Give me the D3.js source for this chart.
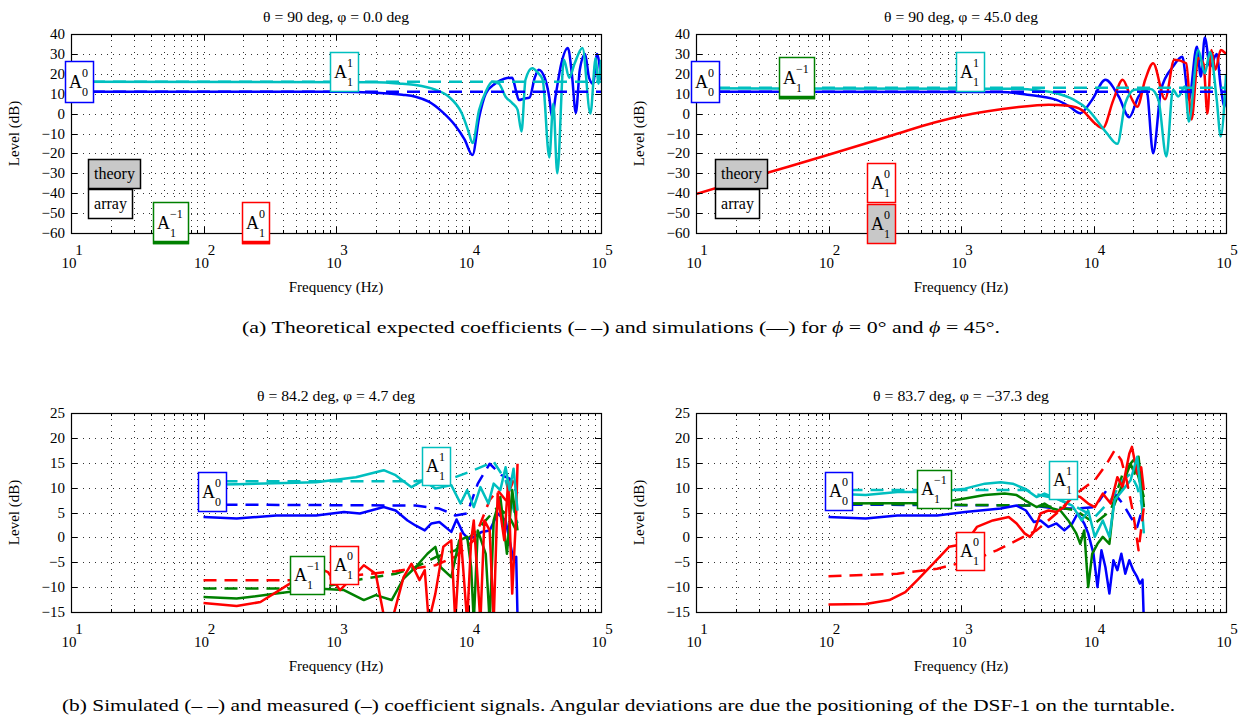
<!DOCTYPE html>
<html>
<head>
<meta charset="utf-8">
<script src="https://d3js.org/d3.v7.min.js"></script>
<style>
  body { margin: 0; background: #fff; }
  svg, svg text { font-family: "Times New Roman", "Liberation Serif", Times, serif; }
  svg text { fill: #000; }
</style>
</head>
<body>
<svg id="fig" width="1241" height="720"></svg>
<script>
// colours (MATLAB default order)
const cBlue = '#0000ff', cGreen = '#008000', cRed = '#ff0000', cCyan = '#00bfbf';

// ---- panel (a) left: theta = 90, phi = 0 ---- [Hz, dB]
const p1BlueTheory = [[10, 11], [1e5, 11]];
const p1CyanTheory = [[10, 16], [1e5, 16]];
const p1BlueSim = [[10, 11], [1000, 11], [1995, 10.5], [3162, 9.5], [3981, 8.5], [5012, 6], [6310, 1], [7943, -6],
  [9333, -13], [10720, -20.8], [12020, -2], [13490, 10], [15850, 15], [18620, 17.5], [21380, 18], [22910, 11],
  [23990, 6.8], [26300, 7.5], [28840, 8], [31620, 18], [33880, 22], [38020, 17], [40740, 8], [42660, -1.7],
  [45710, 10], [50120, 25], [56230, 33], [60260, 20], [64570, 0.3], [69180, 22], [75860, 30], [81280, 18],
  [87100, 15], [93330, 30], [100000, 17]];
const p1CyanSim = [[10, 16], [1995, 15.8], [3162, 15], [3981, 14.4], [5623, 12], [7079, 8.5], [8913, 0], [10000, -9],
  [10720, -14.8], [12020, 1.8], [13490, 11], [15140, 16], [16980, 15], [19050, 8.5], [21380, 5.3], [23440, 2],
  [25120, -9], [26920, 17], [30200, 22.8], [33880, 20], [36310, 17], [40740, -22], [43650, 5], [46770, -30],
  [52480, 27], [57540, 18], [63100, 25], [72440, 33], [83180, 0], [91200, 28], [95500, 15], [100000, 27]];

// ---- panel (a) right: theta = 90, phi = 45 ----
const p2BlueTheory = [[10, 11], [1e5, 11]];
const p2CyanTheory = [[10, 13], [1e5, 13]];
const p2BlueSim = [[10, 11], [1995, 10.8], [3162, 9.5], [5248, 6.9], [6607, 3.5], [7943, 0.2], [9772, 7], [12300, 17],
  [15490, 8.6], [18620, -1.8], [21880, 8.6], [25120, 12], [28180, -19.9], [32360, 12], [39810, 23.6], [46770, 28.6],
  [52480, 7], [60260, 33.6], [64570, 18.6], [69180, 38.3], [75860, 23.6], [85110, 30], [91200, 13.6], [97720, 3.5],
  [100000, 15]];
const p2RedSim = [[10, -40.4], [31.6, -30.5], [100, -20.7], [316, -10.5], [631, -4.5], [1000, -1.2], [1585, 1.2],
  [2630, 3.2], [4571, 4.5], [6457, 3.9], [8128, 1.9], [10230, -4.8], [11750, -7.3], [14130, 6.9], [16600, 17],
  [19050, 8.6], [21380, 3.5], [24550, 17], [28180, 25.3], [34670, 7.2], [40740, 27], [50120, 25.3], [54950, -3],
  [61660, 28], [67610, 25], [72440, 0], [77620, 32], [83180, 22], [91200, 32], [100000, 30]];
const p2CyanSim = [[10, 12.7], [2512, 12.5], [3981, 11.5], [5248, 10.2], [7079, 7], [9120, 1.9], [12590, -9.8],
  [15140, -15.2], [17380, 5.2], [20420, 12], [26920, 12.3], [30900, 6.9], [35480, -21.5], [39810, 12], [43650, 8.6],
  [48980, 13.6], [52480, -4], [61660, 32], [69180, 20.3], [75860, 31], [85110, 7], [91200, -11.5], [100000, 19.4]];

// ---- panel (b) left: theta = 84.2, phi = 4.7 ----
const p3BlueTheory = [[100, 6.6], [3981, 6.4], [4898, 6.1], [6026, 5.8], [7943, 4.4], [9772, 4.8], [11750, 10.8],
  [14450, 14.8], [17780, 12.5], [20420, 11.8], [23440, 8.8]];
const p3GreenTheory = [[100, -10.3], [708, -10.3], [1413, -8.6], [2818, -7.3], [3981, -6], [5623, -4], [7943, -2.6],
  [10960, 0.8], [13490, 3.4], [16600, 6.1], [20420, 4.1], [23440, 0.8]];
const p3RedTheory = [[100, -8.6], [708, -8.6], [1413, -7.6], [2818, -6.8], [5623, -5.6], [7943, -3.9], [10960, -0.6],
  [14450, 7.5], [16600, 9.5], [19050, 7.5], [21880, 11.5]];
const p3CyanTheory = [[100, 11.3], [3981, 11.3], [7943, 12.1], [10960, 13.5], [15490, 15.2], [19050, 11.5], [23440, 2.8]];
const p3BlueMeas = [[100, 4.1], [178, 3.8], [355, 4.4], [708, 4.4], [1148, 5.1], [1514, 4.8], [2291, 6.1], [2818, 5.4],
  [3467, 3.4], [3981, 2.4], [4677, 1.4], [5248, 2.8], [6026, 3.1], [7413, 1.1], [8128, 3.6], [9120, 0.8], [10000, -0.3],
  [10960, 0.1], [12590, 1.1], [14450, 1.4], [16600, 4.8], [19050, 3.4], [21880, -4.6], [22910, -3.9], [23440, -16]];
const p3GreenMeas = [[100, -12], [178, -12.3], [355, -11.3], [708, -10.3], [1148, -10.6], [1622, -12.6], [1995, -11.6],
  [2630, -12.6], [3236, -8.3], [3981, -6], [4898, -3.3], [5623, -1.9], [6166, -6], [7413, -8], [8511, -0.6], [9772, 0.1],
  [10470, -6], [10960, -17], [11750, 1.4], [13490, -3.3], [14450, -17], [15490, 3.4], [17380, 8.1], [18620, 1.4],
  [19500, -3.3], [21380, 9.5], [23440, 1.4]];
const p3RedMeas = [[100, -13.2], [178, -13.8], [269, -13], [407, -10], [617, -7], [708, -6], [871, -7], [1072, -10.6],
  [1230, -9], [1622, -5.6], [1995, -7.3], [2344, -17], [2630, -17], [3236, -8], [3715, -5.3], [4266, -8.6], [4677, -6.6],
  [5012, -17], [5623, -11.3], [6457, -1.9], [7413, -0.6], [7943, -17], [8710, 0.8], [9772, -17], [10470, -0.6],
  [10960, 3.4], [12300, -17], [13180, 3.4], [14450, 1.4], [15490, -17], [16600, 8.8], [18620, -0.6], [19950, 11.5],
  [21380, -11.3], [22910, 4.8], [23440, 14.8]];
const p3CyanMeas = [[100, 10.6], [178, 10.7], [708, 11.1], [1413, 12.1], [2291, 13.5], [2818, 12.5], [3715, 10.1],
  [4571, 11.5], [5623, 9.8], [7413, 10.5], [8710, 6.8], [9772, 9.5], [10960, 6.1], [12300, 10.1], [14130, 6.8],
  [15490, 10.8], [17380, 9.5], [19050, 14.1], [20420, 9.5], [21880, 13.8], [23440, 5.4]];

// ---- panel (b) right: theta = 83.7, phi = -37.3 ----
const p4BlueTheory = [[100, 6.6], [3467, 6.4], [5248, 5.8], [7413, 5.8], [10230, 6.1], [12590, 9.5], [14450, 8.8],
  [16600, 6.8], [19050, 4.1], [21380, 2.1], [23990, 6.8]];
const p4GreenTheory = [[100, 6.8], [3467, 6.4], [5248, 6.1], [7413, 5.4], [10230, 2.8], [13490, 5.4], [16600, 12.8],
  [19950, 15.5], [21880, 12.1], [23990, 8.1]];
const p4RedTheory = [[100, -7.8], [331, -7.3], [661, -6.3], [1318, -4.3], [1862, -2.6], [2630, -0.6], [3715, 1.4],
  [5248, 4.8], [7413, 8.8], [10230, 11.5], [12590, 14.8], [14450, 17.5], [16220, 15.5], [17780, 11.5], [19950, 4.8],
  [21880, -2.6], [23990, 6.1]];
const p4CyanTheory = [[100, 9.5], [3162, 9.5], [3467, 8.8], [5248, 7.8], [7413, 6.1], [10230, 4.1], [13490, 7.5],
  [16600, 11.5], [19050, 12.8], [21380, 10.1], [23440, 6.1]];
const p4BlueMeas = [[100, 4.1], [191, 3.8], [331, 4.4], [661, 4.4], [1072, 5.1], [1995, 5.8], [2630, 6.4], [3090, 5.4],
  [3548, 3.1], [3981, 3.4], [4571, 2.1], [5248, 2.8], [6026, 1.4], [6918, 2.8], [7586, 4.8], [8511, 2.8], [9120, 0.8],
  [10000, -3.3], [10720, -10], [11480, -2.6], [12300, -6], [13180, -11.3], [14130, -4.6], [15140, -6.6], [16220, -3.3],
  [17380, -7.3], [18620, -4.6], [19950, -6.6], [21380, -8], [22390, -9.3], [23440, -8.5], [23990, -17]];
const p4GreenMeas = [[100, 6.8], [661, 6.9], [1072, 7.8], [1514, 8.5], [2138, 8.8], [2630, 8.5], [3020, 7.5], [3715, 6.1],
  [4266, 6.8], [4898, 5.8], [5623, 5.4], [6457, 3.4], [7413, 0.8], [7943, -1.3], [8511, 1.4], [9120, -10], [9772, -3.3],
  [10720, -1.3], [11750, 0.1], [13180, -1.3], [14130, 6.1], [15490, 8.8], [17380, 12.1], [19050, 14.8], [20420, 12.8],
  [21880, 16.2], [23990, 6.1]];
const p4RedMeas = [[100, -13.5], [191, -13.4], [288, -12.6], [380, -11], [468, -8.6], [617, -5.3], [813, -1.9],
  [1072, -1.3], [1318, 2.1], [1738, 3.4], [2291, 4.1], [2630, 2.8], [3020, 0.8], [3311, 0.1], [3548, 1.1], [3981, 4.8],
  [4571, 5.4], [5248, 5.1], [6026, 6.1], [6918, 8.5], [7943, 8.1], [9120, 6.8], [10230, 6.1], [11750, 8.8], [13490, 6.8],
  [15140, 12.1], [16600, 10.1], [18620, 16.8], [19500, 18.2], [21380, 12.8], [22910, 14.1], [23990, 9.5]];
const p4CyanMeas = [[100, 8.8], [191, 8.5], [331, 9.1], [661, 9.1], [1072, 9.8], [1514, 10.8], [1995, 11.1], [2455, 10.8],
  [3020, 9.8], [3715, 8.1], [4266, 8.8], [5248, 7.8], [6918, 6.4], [8128, 3.4], [9120, 5.4], [10230, 0.1], [11750, 3.4],
  [13180, 0.1], [14450, 7.5], [16600, 9.5], [19050, 11.5], [21380, 16.2], [22910, 8.1], [23990, 0.8]];

// axis settings
const freqDomain = [10, 1e5];
const decades = [1, 2, 3, 4, 5];
const topTicks = [-60, -50, -40, -30, -20, -10, 0, 10, 20, 30, 40];
const bottomTicks = [-15, -10, -5, 0, 5, 10, 15, 20, 25];

const panels = [
  { left: 71, top: 34, title: 'θ = 90 deg, φ = 0.0 deg', titleLen: 146, yDomain: [-60, 40], yTicks: topTicks, smooth: true,
    lines: [[p1BlueSim, cBlue, false], [p1CyanSim, cCyan, false], [p1BlueTheory, cBlue, true], [p1CyanTheory, cCyan, true]],
    boxes: [
      { dx: -6, dy: 27, w: 28, h: 41, c: cBlue, sup: '0', sub: '0' },
      { dx: 259, dy: 18, w: 28, h: 39, c: cCyan, sup: '1', sub: '1' },
      { dx: 17, dy: 125, w: 52, h: 29, c: '#000', fill: '#c8c8c8', txt: 'theory' },
      { dx: 17, dy: 155, w: 44, h: 29, c: '#000', txt: 'array' },
      { dx: 82, dy: 168, w: 35, h: 41, c: cGreen, sup: '−1', sub: '1', thick: true },
      { dx: 171, dy: 168, w: 27, h: 41, c: cRed, sup: '0', sub: '1', thick: true }
    ] },
  { left: 696, top: 34, title: 'θ = 90 deg, φ = 45.0 deg', titleLen: 154, yDomain: [-60, 40], yTicks: topTicks, smooth: true,
    lines: [[p2BlueSim, cBlue, false], [p2RedSim, cRed, false], [p2CyanSim, cCyan, false], [p2BlueTheory, cBlue, true], [p2CyanTheory, cCyan, true]],
    boxes: [
      { dx: -5, dy: 27, w: 28, h: 41, c: cBlue, sup: '0', sub: '0' },
      { dx: 83, dy: 23, w: 35, h: 41, c: cGreen, sup: '−1', sub: '1', thick: true },
      { dx: 260, dy: 18, w: 28, h: 39, c: cCyan, sup: '1', sub: '1' },
      { dx: 19, dy: 125, w: 52, h: 29, c: '#000', fill: '#c8c8c8', txt: 'theory' },
      { dx: 19, dy: 155, w: 44, h: 29, c: '#000', txt: 'array' },
      { dx: 171, dy: 129, w: 28, h: 39, c: cRed, sup: '0', sub: '1' },
      { dx: 171, dy: 170, w: 28, h: 39, c: cRed, fill: '#c8c8c8', sup: '0', sub: '1' }
    ] },
  { left: 71, top: 413, title: 'θ = 84.2 deg, φ = 4.7 deg', titleLen: 158, yDomain: [-15, 25], yTicks: bottomTicks, smooth: false,
    lines: [[p3BlueTheory, cBlue, true], [p3GreenTheory, cGreen, true], [p3RedTheory, cRed, true], [p3CyanTheory, cCyan, true],
      [p3BlueMeas, cBlue, false], [p3GreenMeas, cGreen, false], [p3RedMeas, cRed, false], [p3CyanMeas, cCyan, false]],
    boxes: [
      { dx: 127, dy: 59, w: 28, h: 39, c: cBlue, sup: '0', sub: '0' },
      { dx: 351, dy: 34, w: 28, h: 38, c: cCyan, sup: '1', sub: '1' },
      { dx: 219, dy: 143, w: 34, h: 38, c: cGreen, sup: '−1', sub: '1' },
      { dx: 259, dy: 133, w: 28, h: 38, c: cRed, sup: '0', sub: '1' }
    ] },
  { left: 696, top: 413, title: 'θ = 83.7 deg, φ = −37.3 deg', titleLen: 176, yDomain: [-15, 25], yTicks: bottomTicks, smooth: false,
    lines: [[p4BlueTheory, cBlue, true], [p4GreenTheory, cGreen, true], [p4CyanTheory, cCyan, true],
      [p4BlueMeas, cBlue, false], [p4GreenMeas, cGreen, false], [p4RedMeas, cRed, false], [p4CyanMeas, cCyan, false], [p4RedTheory, cRed, true]],
    boxes: [
      { dx: 129, dy: 59, w: 27, h: 38, c: cBlue, sup: '0', sub: '0' },
      { dx: 221, dy: 57, w: 34, h: 38, c: cGreen, sup: '−1', sub: '1' },
      { dx: 353, dy: 48, w: 28, h: 38, c: cCyan, sup: '1', sub: '1' },
      { dx: 260, dy: 119, w: 28, h: 38, c: cRed, sup: '0', sub: '1' }
    ] }
];

const pw = 530, ph = 199;
const serif = '"Times New Roman", "Liberation Serif", Times, serif';
const svg = d3.select('#fig').attr('font-family', serif);
svg.append('rect').attr('width', 1241).attr('height', 720).attr('fill', '#fff');

panels.forEach(function(p, i) {
  const g = svg.append('g').attr('transform', 'translate(' + p.left + ',' + p.top + ')');
  const x = d3.scaleLog().domain(freqDomain).range([0, pw]);
  const y = d3.scaleLinear().domain(p.yDomain).range([ph, 0]);

  // dotted grid
  const grid = g.append('g').attr('stroke', '#333').attr('stroke-width', 1).attr('stroke-dasharray', '1,5');
  x.ticks().filter(function(t) { return t > 10 && t < 1e5; }).forEach(function(t) {
    grid.append('line').attr('x1', Math.round(x(t)) + 0.5).attr('x2', Math.round(x(t)) + 0.5).attr('y1', 0).attr('y2', ph);
  });
  p.yTicks.slice(1, -1).forEach(function(t) {
    grid.append('line').attr('x1', 0).attr('x2', pw).attr('y1', Math.round(y(t)) + 0.5).attr('y2', Math.round(y(t)) + 0.5);
  });

  // data lines
  const clipId = 'clip' + i;
  g.append('clipPath').attr('id', clipId).append('rect').attr('width', pw).attr('height', ph);
  const line = d3.line().x(function(d) { return x(d[0]); }).y(function(d) { return y(d[1]); })
    .curve(p.smooth ? d3.curveMonotoneX : d3.curveLinear);
  const lg = g.append('g').attr('clip-path', 'url(#' + clipId + ')');
  p.lines.forEach(function(l) {
    lg.append('path').datum(l[0]).attr('d', line).attr('fill', 'none').attr('stroke', l[1])
      .attr('stroke-width', 2.5).attr('stroke-linejoin', 'round')
      .attr('stroke-dasharray', l[2] ? '13,8' : null);
  });

  // frame and inward ticks
  g.append('rect').attr('x', 0.5).attr('y', 0.5).attr('width', pw).attr('height', ph)
    .attr('fill', 'none').attr('stroke', '#000').attr('stroke-width', 1.2);
  const tk = g.append('g').attr('stroke', '#000').attr('stroke-width', 1);
  x.ticks().forEach(function(t) {
    const e = Math.log10(t);
    const major = Math.abs(e - Math.round(e)) < 1e-6;
    const len = major ? 6 : 3;
    const xx = Math.round(x(t)) + 0.5;
    tk.append('line').attr('x1', xx).attr('x2', xx).attr('y1', ph).attr('y2', ph - len);
    tk.append('line').attr('x1', xx).attr('x2', xx).attr('y1', 0).attr('y2', len);
  });
  p.yTicks.forEach(function(t) {
    const yy = Math.round(y(t)) + 0.5;
    tk.append('line').attr('x1', 0).attr('x2', 6).attr('y1', yy).attr('y2', yy);
    tk.append('line').attr('x1', pw).attr('x2', pw - 6).attr('y1', yy).attr('y2', yy);
  });

  // tick labels
  p.yTicks.forEach(function(t) {
    g.append('text').attr('x', -6).attr('y', y(t) + 5).attr('text-anchor', 'end')
      .style('font-size', '15px').text(String(t).replace('-', '−'));
  });
  decades.forEach(function(k) {
    const xx = x(Math.pow(10, k));
    g.append('text').attr('x', xx - 2).attr('y', ph + 35).attr('text-anchor', 'middle')
      .style('font-size', '15px').text('10');
    g.append('text').attr('x', xx + 8).attr('y', ph + 22).attr('text-anchor', 'middle')
      .style('font-size', '15px').text(k);
  });

  // titles and axis labels
  g.append('text').attr('x', pw / 2 - p.titleLen / 2).attr('y', -12)
    .attr('textLength', p.titleLen).attr('lengthAdjust', 'spacingAndGlyphs')
    .style('font-size', '15px').text(p.title);
  g.append('text').attr('x', pw / 2).attr('y', ph + 59).attr('text-anchor', 'middle')
    .style('font-size', '15px').text('Frequency (Hz)');
  g.append('text').attr('transform', 'translate(-52,' + (ph / 2) + ')rotate(-90)').attr('text-anchor', 'middle')
    .style('font-size', '15px').text('Level (dB)');

  // annotation boxes
  p.boxes.forEach(function(b) {
    const bg = g.append('g').attr('transform', 'translate(' + b.dx + ',' + b.dy + ')');
    bg.append('rect').attr('x', 0.5).attr('y', 0.5).attr('width', b.w).attr('height', b.h)
      .attr('fill', b.fill || '#fff').attr('stroke', b.c).attr('stroke-width', 1.5);
    if (b.thick) {
      bg.append('line').attr('x1', 0).attr('x2', b.w + 1).attr('y1', b.h - 0.5).attr('y2', b.h - 0.5)
        .attr('stroke', b.c).attr('stroke-width', 3.5);
    }
    if (b.txt) {
      bg.append('text').attr('x', b.w / 2 + 0.5).attr('y', b.h / 2 + 5).attr('text-anchor', 'middle')
        .style('font-size', '16px').text(b.txt);
    } else {
      bg.append('text').attr('x', 4).attr('y', b.h * 0.66).style('font-size', '18px').text('A');
      bg.append('text').attr('x', 17).attr('y', b.h * 0.38).style('font-size', '12px').text(b.sup);
      bg.append('text').attr('x', 17).attr('y', b.h * 0.86).style('font-size', '12px').text(b.sub);
    }
  });
});

// captions
svg.append('text').attr('x', 242).attr('y', 333).attr('textLength', 758).attr('lengthAdjust', 'spacingAndGlyphs')
  .style('font-size', '17px')
  .html('(a)  Theoretical expected coefficients (– –) and simulations (—) for <tspan font-style="italic">ϕ</tspan> = 0° and <tspan font-style="italic">ϕ</tspan> = 45°.');
svg.append('text').attr('x', 62).attr('y', 711).attr('textLength', 1113).attr('lengthAdjust', 'spacingAndGlyphs')
  .style('font-size', '17px')
  .text('(b)  Simulated (– –) and measured (–) coefficient signals. Angular deviations are due the positioning of the DSF-1 on the turntable.');
</script>
</body>
</html>
